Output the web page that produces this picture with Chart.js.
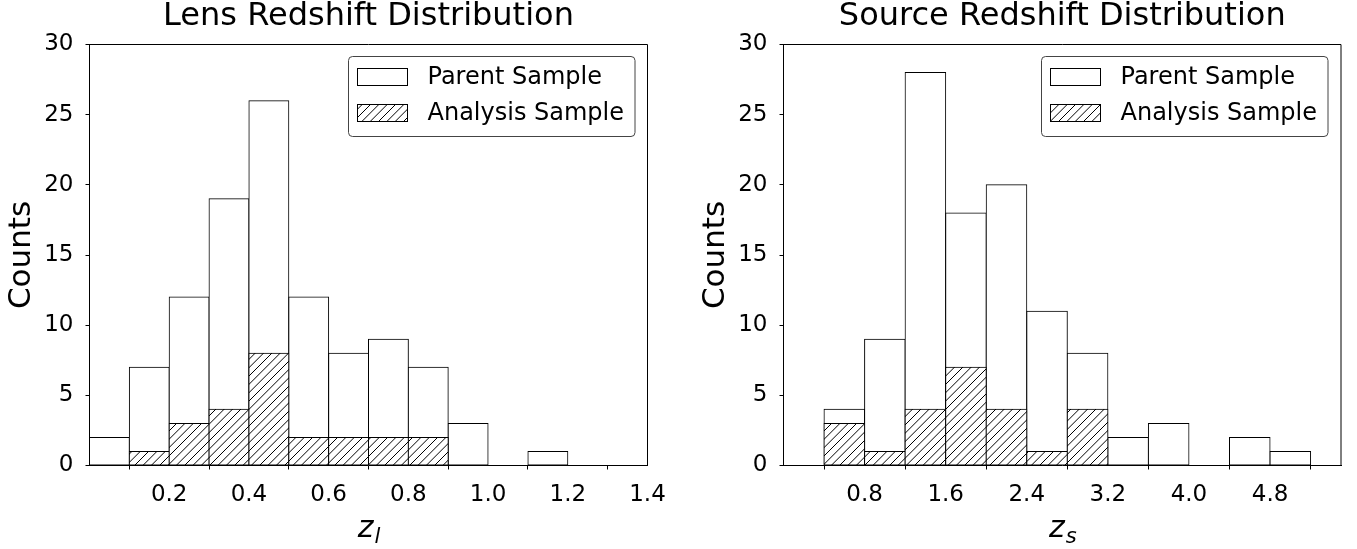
<!DOCTYPE html>
<html>
<head>
<meta charset="utf-8">
<script src="https://cdn.jsdelivr.net/npm/chart.js@4.4.0/dist/chart.umd.min.js"></script>
<style>
  html, body { margin: 0; padding: 0; background: #fff; }
  #wrap { position: relative; width: 1357px; height: 549px; }
  .panel { position: absolute; top: 0; height: 549px; }
</style>
</head>
<body>
<div id="wrap">
  <div class="panel" style="left:0;width:680px"><canvas id="lens" width="680" height="549"></canvas></div>
  <div class="panel" style="left:680px;width:677px"><canvas id="source" width="677" height="549"></canvas></div>
</div>
<script>
// bin edges + counts
const lensEdges = [0.0, 0.1, 0.2, 0.3, 0.4, 0.5, 0.6, 0.7, 0.8, 0.9, 1.0, 1.1, 1.2, 1.3, 1.4];
const lensParent = [2, 7, 12, 19, 26, 12, 8, 9, 7, 3, 0, 1, 0, 0];
const lensAnalysis = [0, 1, 3, 4, 8, 2, 2, 2, 2, 0, 0, 0, 0, 0];
const lensTicks = [0.2, 0.4, 0.6, 0.8, 1.0, 1.2, 1.4];

const sourceEdges = [0.0, 0.4, 0.8, 1.2, 1.6, 2.0, 2.4, 2.8, 3.2, 3.6, 4.0, 4.4, 4.8, 5.2];
const sourceParent = [0, 4, 9, 28, 18, 20, 11, 8, 2, 3, 0, 2, 1];
const sourceAnalysis = [0, 3, 1, 4, 7, 4, 1, 4, 0, 0, 0, 0, 0];
const sourceTicks = [0.8, 1.6, 2.4, 3.2, 4.0, 4.8];

const countTicks = [0, 5, 10, 15, 20, 25, 30];
const seriesLabels = ['Parent Sample', 'Analysis Sample'];

Chart.defaults.font.family = "'DejaVu Sans', sans-serif";
Chart.defaults.color = '#000';

// white tile with "/" lines, opaque so the bar border underneath doesn't show through
function makeHatch(ctx) {
    var tile = document.createElement('canvas');
    tile.width = 25;
    tile.height = 25;
    var c = tile.getContext('2d');
    c.fillStyle = '#fff';
    c.fillRect(0, 0, 25, 25);
    c.strokeStyle = '#000';
    c.lineWidth = 1;
    for (var k = 0; k <= 6; k++) {
        var d = k * 25 / 3;
        c.beginPath();
        c.moveTo(d + 2, -2);
        c.lineTo(d - 27, 27);
        c.stroke();
    }
    return ctx.createPattern(tile, 'repeat');
}

// frame top/right, legend inside the axes, x label with subscript
var decorPlugin = {
    id: 'decor',
    afterDraw: function (chart, args, opts) {
        var ctx = chart.ctx;
        var a = chart.chartArea;
        ctx.save();
        ctx.strokeStyle = '#000';
        ctx.lineWidth = 1;
        ctx.beginPath();
        ctx.moveTo(a.left, a.top);
        ctx.lineTo(a.right, a.top);
        ctx.lineTo(a.right, a.bottom);
        ctx.stroke();

        // legend
        var sets = chart.data.datasets;
        ctx.font = '24px "DejaVu Sans"';
        var textW = 0;
        sets.forEach(function (ds) { textW = Math.max(textW, ctx.measureText(ds.label).width); });
        var w = 9 + 50 + 20 + textW + 11;
        var h = 80;
        var x = Math.round(a.right - 13.5 - w) + 0.5;
        var y = a.top + 12;
        ctx.beginPath();
        ctx.roundRect(x, y, w, h, 4);
        ctx.fillStyle = 'rgba(255,255,255,0.8)';
        ctx.fill();
        ctx.strokeStyle = '#444';
        ctx.stroke();
        ctx.textBaseline = 'middle';
        ctx.textAlign = 'left';
        sets.forEach(function (ds, i) {
            var py = Math.round(y + 11.5 + i * 35.5) + 0.5;
            ctx.fillStyle = ds.backgroundColor;
            ctx.fillRect(x + 9, py, 50, 17);
            ctx.strokeStyle = '#000';
            ctx.strokeRect(x + 9, py, 50, 17);
            ctx.fillStyle = '#000';
            ctx.fillText(ds.label, x + 79, py + 9);
        });

        // x axis label, z with subscript
        ctx.textBaseline = 'alphabetic';
        ctx.font = 'italic 30px "DejaVu Sans"';
        var zW = ctx.measureText('z').width;
        ctx.font = 'italic 21px "DejaVu Sans"';
        var sW = ctx.measureText(opts.sub).width;
        var x0 = (a.left + a.right) / 2 - (zW + sW) / 2;
        ctx.font = 'italic 30px "DejaVu Sans"';
        ctx.fillText('z', x0, 537);
        ctx.font = 'italic 21px "DejaVu Sans"';
        ctx.fillText(opts.sub, x0 + zW + 1, 543);
        ctx.restore();
    }
};

function drawHist(canvasId, title, edges, parent, analysis, xTicks, xMax, cfg) {
    var ctx = document.getElementById(canvasId).getContext('2d');
    var hatch = makeHatch(ctx);
    var centers = edges.slice(0, -1).map(function (e, i) { return (e + edges[i + 1]) / 2; });
    var common = {
        borderColor: '#000',
        borderWidth: 1,
        borderSkipped: false,
        inflateAmount: 0.5,
        barPercentage: 1,
        categoryPercentage: 1,
        grouped: false
    };
    return new Chart(ctx, {
        type: 'bar',
        data: {
            datasets: [
                Object.assign({
                    label: seriesLabels[0],
                    data: parent.map(function (v, i) { return { x: centers[i], y: v }; }),
                    backgroundColor: '#fff',
                    order: 1
                }, common),
                Object.assign({
                    label: seriesLabels[1],
                    data: analysis.map(function (v, i) { return { x: centers[i], y: v }; }),
                    backgroundColor: hatch,
                    order: 0
                }, common)
            ]
        },
        options: {
            responsive: false,
            animation: false,
            devicePixelRatio: 1,
            layout: { padding: { left: 0, right: cfg.padRight, top: 0, bottom: 0 } },
            plugins: {
                legend: { display: false },
                tooltip: { enabled: false },
                title: {
                    display: true,
                    text: title,
                    fullSize: false,
                    font: { size: 32, weight: 'normal', lineHeight: 1.05 },
                    padding: { top: 0, bottom: 10.9 }
                },
                decor: { sub: cfg.sub }
            },
            scales: {
                x: {
                    type: 'linear',
                    min: 0,
                    max: xMax,
                    offset: false,
                    afterBuildTicks: function (s) { s.ticks = xTicks.map(function (v) { return { value: v }; }); },
                    afterFit: function (s) { s.height = 83.5; },
                    ticks: {
                        autoSkip: false,
                        maxRotation: 0,
                        padding: 12,
                        font: { size: 23 },
                        callback: function (v) { return v.toFixed(1); }
                    },
                    grid: { display: true, drawOnChartArea: false, drawTicks: true, tickLength: 4, color: '#000' },
                    border: { display: true, color: '#000', width: 1 }
                },
                y: {
                    min: 0,
                    max: 30,
                    afterBuildTicks: function (s) { s.ticks = countTicks.map(function (v) { return { value: v }; }); },
                    afterFit: function (s) { s.width = cfg.yWidth; },
                    title: {
                        display: true,
                        text: 'Counts',
                        font: { size: 31, lineHeight: 1 },
                        padding: { top: cfg.countsPad, bottom: 0 }
                    },
                    ticks: { padding: 12, font: { size: 23 } },
                    grid: { display: true, drawOnChartArea: false, drawTicks: true, tickLength: 4, color: '#000' },
                    border: { display: true, color: '#000', width: 1 }
                }
            }
        },
        plugins: [decorPlugin]
    });
}

drawHist('lens', 'Lens Redshift Distribution', lensEdges, lensParent, lensAnalysis, lensTicks, 1.4,
    { padRight: 32.5, yWidth: 89.5, countsPad: 6.5, sub: 'l' });
drawHist('source', 'Source Redshift Distribution', sourceEdges, sourceParent, sourceAnalysis, sourceTicks, 5.5,
    { padRight: 16, yWidth: 103.5, countsPad: 20.5, sub: 's' });
</script>
</body>
</html>
